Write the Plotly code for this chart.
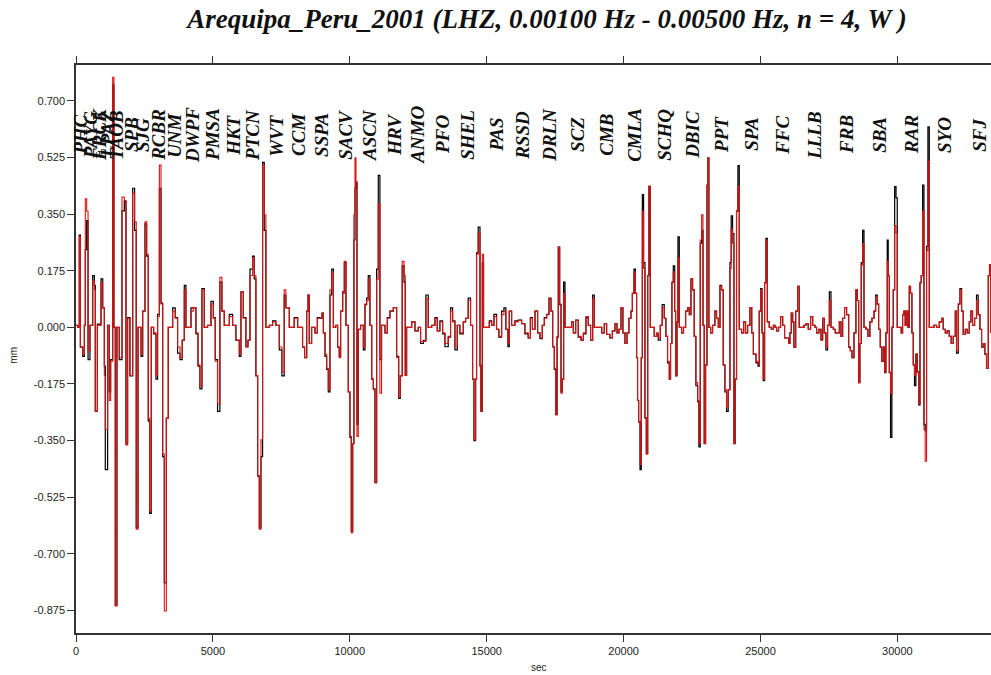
import plotly.graph_objects as go

# Filtered vertical displacement (mm) versus time after origin (s)
time_s = [0, 60, 120, 160, 245, 305, 340, 390, 440, 510, 610, 670, 705, 780, 915, 975, 1035, 1070, 1155, 1215,
          1265, 1340, 1385, 1435, 1495, 1580, 1680, 1765, 1825, 1885, 1970, 2070, 2140, 2200, 2265, 2375, 2435, 2520, 2580, 2640,
          2690, 2750, 2835, 2920, 2980, 3045, 3105, 3165, 3225, 3300, 3370, 3530, 3625, 3710, 3800, 3880, 3955, 4015, 4200, 4285,
          4380, 4455, 4525, 4600, 4685, 4805, 4930, 5015, 5085, 5170, 5255, 5330, 5415, 5600, 5720, 5840, 5965, 6025, 6110, 6205,
          6280, 6355, 6450, 6510, 6570, 6635, 6695, 6755, 6815, 6875, 6935, 7060, 7180, 7300, 7425, 7520, 7605, 7665, 7790, 7970,
          8095, 8275, 8350, 8425, 8475, 8520, 8605, 8730, 8815, 8910, 8985, 9035, 9095, 9155, 9215, 9275, 9340, 9400, 9485, 9555,
          9615, 9665, 9740, 9800, 9860, 9945, 10005, 10055, 10105, 10150, 10190, 10225, 10262, 10310, 10395, 10495, 10555, 10615, 10675, 10735,
          10800, 10860, 10920, 10980, 11040, 11100, 11160, 11285, 11370, 11465, 11590, 11710, 11785, 11845, 11915, 11980, 12025, 12075, 12260, 12380,
          12500, 12585, 12685, 12780, 12865, 12990, 13110, 13195, 13290, 13390, 13475, 13595, 13680, 13755, 13840, 13925, 14020, 14145, 14230, 14325,
          14410, 14485, 14535, 14595, 14630, 14690, 14755, 14790, 14840, 14885, 14995, 15095, 15180, 15265, 15360, 15445, 15545, 15630, 15700, 15775,
          15825, 15910, 16030, 16150, 16275, 16395, 16515, 16595, 16670, 16765, 16860, 16945, 17030, 17105, 17190, 17275, 17350, 17410, 17470, 17520,
          17570, 17615, 17665, 17715, 17760, 17810, 17860, 17980, 18100, 18165, 18250, 18345, 18445, 18530, 18625, 18710, 18795, 18870, 18930, 19075,
          19200, 19295, 19380, 19500, 19590, 19685, 19760, 19830, 19905, 19975, 20050, 20125, 20195, 20270, 20320, 20380, 20430, 20475, 20510, 20550,
          20600, 20645, 20685, 20730, 20780, 20830, 20880, 20925, 20975, 21050, 21120, 21205, 21265, 21340, 21410, 21485, 21545, 21605, 21670, 21715,
          21765, 21815, 21865, 21900, 21950, 21985, 22035, 22120, 22190, 22265, 22340, 22400, 22460, 22520, 22580, 22640, 22705, 22750, 22800, 22850,
          22900, 22945, 22995, 23045, 23080, 23115, 23180, 23250, 23335, 23395, 23460, 23520, 23580, 23640, 23700, 23760, 23820, 23885, 23930, 23980,
          24030, 24080, 24125, 24175, 24225, 24310, 24385, 24455, 24530, 24615, 24680, 24740, 24835, 24910, 24955, 25005, 25055, 25100, 25150, 25200,
          25250, 25320, 25395, 25470, 25530, 25590, 25660, 25735, 25810, 25880, 25955, 26030, 26075, 26125, 26175, 26220, 26285, 26355, 26415, 26500,
          26590, 26660, 26745, 26830, 26905, 26990, 27050, 27135, 27210, 27270, 27330, 27390, 27450, 27515, 27575, 27660, 27730, 27805, 27880, 27940,
          28000, 28070, 28145, 28220, 28280, 28340, 28415, 28485, 28535, 28585, 28630, 28680, 28730, 28780, 28850, 28925, 28995, 29070, 29145, 29205,
          29265, 29315, 29375, 29425, 29485, 29535, 29580, 29630, 29665, 29705, 29750, 29800, 29850, 29900, 29950, 29995, 30070, 30140, 30190, 30240,
          30285, 30335, 30385, 30435, 30480, 30530, 30580, 30625, 30675, 30725, 30775, 30825, 30870, 30920, 30970, 31015, 31065, 31115, 31165, 31250,
          31335, 31430, 31530, 31615, 31675, 31750, 31820, 31895, 31965, 32040, 32115, 32160, 32225, 32285, 32345, 32405, 32480, 32550, 32625, 32685,
          32745, 32820, 32890, 32950, 33015, 33075, 33135, 33195, 33255, 33320, 33365, 33415]

# Observed trace (black)
observed_mm = [0.006, 0, 0.285, -0.061, -0.09, 0.006, 0.24, 0.33, -0.1, 0.006, 0.16, 0.13, -0.259, 0.01, 0.15, 0.06, -0.12, -0.44, 0.006, -0.2,
               -0.1, 0.75, 0, -0.86, 0, -0.1, 0.36, 0.39, -0.36, 0.03, -0.15, 0.43, 0.3, -0.62, 0, -0.09, 0.05, 0.32, 0.22, -0.29,
               -0.575, 0, -0.02, -0.16, 0.04, 0.43, 0.075, -0.4, -0.79, -0.281, 0, 0.06, 0.03, -0.08, -0.1, -0.04, 0.13, 0, 0.06, 0.06,
               -0.02, -0.12, -0.19, 0.12, 0, 0.006, 0.08, 0.03, -0.1, -0.26, 0.14, 0.05, 0.006, 0.04, 0.006, -0.04, -0.09, 0.11, 0.03, -0.06,
               -0.04, 0.18, 0.22, 0.15, -0.15, -0.46, -0.62, -0.4, 0.51, 0.3, 0, 0.006, 0.02, 0.006, -0.07, -0.15, 0.1, 0.06, 0, 0.03,
               0, -0.061, -0.094, 0.05, 0.1, -0.05, 0, -0.017, 0.03, 0.028, 0.044, -0.017, -0.09, -0.13, -0.2, 0.1, 0.18, 0, 0.006, -0.061,
               -0.09, 0.05, 0.11, 0.2, 0.006, -0.2, -0.34, -0.63, -0.36, 0.27, 0.43, 0.45, -0.3, -0.006, 0.006, -0.07, 0.07, 0.09, 0.16, 0.006,
               -0.16, -0.19, -0.48, 0.18, 0.47, -0.1, 0.006, -0.017, 0.03, 0.05, 0.061, -0.09, -0.22, -0.15, 0.19, 0.14, -0.149, 0, 0.017, -0.011,
               0, -0.05, -0.04, 0.1, 0, 0.006, 0.03, -0.011, 0.02, -0.02, -0.06, -0.03, 0.06, 0.02, -0.07, 0.006, -0.02, 0.017, 0.028, 0.09,
               0.006, -0.16, -0.35, -0.16, 0.23, 0.31, -0.12, -0.26, 0.2, 0, 0, 0.02, 0.006, 0.04, -0.006, -0.03, 0.05, 0.06, -0.006, -0.06,
               0.05, 0.006, 0.02, 0.022, 0.011, -0.02, -0.033, 0.03, -0.006, 0.05, -0.017, -0.035, 0.006, 0.03, 0.04, 0.09, 0.05, -0.06, -0.13, -0.27,
               -0.03, 0.248, 0.07, -0.2, -0.16, 0.14, 0, 0, 0.017, -0.017, 0.022, -0.03, -0.04, -0.02, 0.03, 0.006, -0.04, 0.1, 0, 0,
               -0.017, 0.011, -0.022, -0.033, -0.011, 0.011, -0.017, -0.006, 0.06, -0.017, -0.05, -0.017, 0.028, 0.05, 0.105, 0.18, 0.105, -0.094, -0.226, -0.292,
               -0.44, -0.094, 0.41, 0.2, -0.28, -0.39, 0.16, 0.436, 0, 0, -0.028, -0.02, -0.04, 0.006, 0.07, 0.028, -0.028, -0.11, -0.16, -0.05,
               0.14, 0.19, 0.05, -0.15, 0.017, 0.28, 0, -0.017, 0, 0.05, 0.061, 0.039, 0.15, 0.116, -0.028, -0.18, -0.23, -0.37, 0.26, 0.3,
               0.006, -0.36, -0.116, 0.44, 0.524, 0, -0.017, 0.006, 0.05, 0.028, 0, 0.13, 0.116, -0.116, -0.2, -0.26, -0.193, 0.2, 0.345, 0.29,
               -0.36, -0.16, 0.36, 0.5, -0.006, -0.017, 0.017, -0.017, 0.006, 0.061, -0.017, -0.083, -0.11, -0.12, 0.05, 0.12, -0.017, -0.165, 0.138, 0.275,
               0.017, 0, -0.006, 0.006, 0, -0.011, 0, 0.033, 0.006, -0.033, -0.033, -0.05, -0.017, 0.044, 0.017, -0.061, 0.05, 0.127, 0, 0,
               0.006, 0.011, -0.006, 0.033, 0.006, 0, -0.017, -0.006, -0.039, 0.028, -0.017, -0.07, 0.006, 0.11, 0, -0.006, -0.017, -0.017, 0.017, -0.028,
               0.028, 0.061, 0.039, -0.061, -0.072, -0.094, -0.017, 0.116, 0.083, -0.171, -0.05, 0.2, 0.3, 0, -0.006, -0.028, 0.017, 0.028, 0.05, 0.1,
               0.072, -0.006, -0.061, -0.105, -0.061, -0.14, -0.017, 0.27, 0.16, -0.14, -0.34, 0, 0.116, 0.435, 0.4, 0, 0, -0.017, 0.039, 0.05,
               0.006, 0.05, 0, 0.127, 0.105, -0.017, -0.116, -0.18, -0.083, -0.138, -0.24, 0.138, 0.16, 0.44, -0.3, -0.32, 0.25, 0.62, 0, 0,
               0.006, 0, 0.017, 0.028, -0.006, -0.017, -0.011, -0.028, -0.05, -0.028, 0.05, -0.08, 0.072, 0.12, 0.05, -0.022, -0.006, -0.017, 0.017, 0.05,
               0.006, 0.028, 0.1, 0.039, -0.006, -0.061, -0.05, -0.083, -0.127, 0.16, 0.193, -0.017]

# Synthetic trace (red)
synthetic_mm = [0.006, 0, 0.281, -0.061, -0.083, 0.006, 0.397, 0.359, -0.072, 0.006, 0.143, 0.116, -0.259, 0.006, 0.138, 0.061, -0.149, -0.315, 0.006, -0.226,
                -0.105, 0.773, 0, -0.861, 0, -0.094, 0.403, 0.392, -0.364, 0.028, -0.149, 0.414, 0.326, -0.624, 0, -0.083, 0.05, 0.326, 0.226, -0.281,
                -0.568, 0, -0.017, -0.149, 0.033, 0.502, 0.072, -0.392, -0.877, -0.281, 0, 0.05, 0.028, -0.061, -0.094, -0.039, 0.116, 0, 0.05, 0.061,
                -0.017, -0.116, -0.182, 0.116, 0, 0.006, 0.072, 0.028, -0.105, -0.237, 0.155, 0.05, 0.006, 0.033, 0.006, -0.039, -0.083, 0.11, 0.028, -0.061,
                -0.039, 0.16, 0.215, 0.16, -0.149, -0.458, -0.624, -0.348, 0.502, 0.348, 0, 0.006, 0.017, 0.006, -0.061, -0.138, 0.116, 0.061, 0, 0.028,
                0, -0.061, -0.094, 0.05, 0.1, -0.05, 0, -0.017, 0.028, 0.028, 0.044, -0.017, -0.083, -0.127, -0.193, 0.116, 0.171, 0, 0.006, -0.061,
                -0.094, 0.05, 0.105, 0.204, 0.006, -0.199, -0.337, -0.635, -0.359, 0.348, 0.524, 0.447, -0.337, -0.006, 0.006, -0.061, 0.072, 0.083, 0.149, 0.006,
                -0.16, -0.193, -0.48, 0.149, 0.381, -0.204, 0.006, -0.017, 0.028, 0.05, 0.061, -0.094, -0.215, -0.149, 0.204, 0.16, -0.149, 0, 0.017, -0.011,
                0, -0.044, -0.044, 0.088, 0, 0.006, 0.028, -0.011, 0.017, -0.017, -0.05, -0.028, 0.05, 0.017, -0.061, 0.006, -0.017, 0.017, 0.028, 0.083,
                0.006, -0.16, -0.348, -0.16, 0.226, 0.292, -0.116, -0.259, 0.226, 0, 0, 0.017, 0.006, 0.033, -0.006, -0.028, 0.039, 0.05, -0.006, -0.05,
                0.05, 0.006, 0.017, 0.022, 0.011, -0.017, -0.033, 0.028, -0.006, 0.05, -0.017, -0.033, 0.006, 0.028, 0.039, 0.088, 0.05, -0.061, -0.127, -0.27,
                -0.028, 0.248, 0.072, -0.204, -0.16, 0.105, 0, 0, 0.017, -0.017, 0.022, -0.028, -0.039, -0.017, 0.033, 0.006, -0.039, 0.088, 0, 0,
                -0.017, 0.011, -0.022, -0.033, -0.011, 0.011, -0.017, -0.006, 0.061, -0.017, -0.05, -0.017, 0.028, 0.05, 0.105, 0.171, 0.105, -0.094, -0.226, -0.292,
                -0.425, -0.094, 0.359, 0.182, -0.281, -0.392, 0.16, 0.436, 0, 0, -0.028, -0.017, -0.033, 0.006, 0.061, 0.028, -0.028, -0.105, -0.16, -0.05,
                0.138, 0.171, 0.05, -0.149, 0.017, 0.215, 0, -0.017, 0, 0.05, 0.061, 0.039, 0.149, 0.116, -0.028, -0.171, -0.226, -0.359, 0.27, 0.348,
                0.006, -0.359, -0.116, 0.436, 0.524, 0, -0.017, 0.006, 0.05, 0.028, 0, 0.127, 0.116, -0.116, -0.193, -0.248, -0.193, 0.182, 0.304, 0.26,
                -0.359, -0.16, 0.359, 0.436, -0.006, -0.017, 0.017, -0.017, 0.006, 0.061, -0.017, -0.083, -0.105, -0.116, 0.05, 0.116, -0.017, -0.16, 0.138, 0.27,
                0.017, 0, -0.006, 0.006, 0, -0.011, 0, 0.033, 0.006, -0.033, -0.033, -0.05, -0.017, 0.044, 0.017, -0.061, 0.05, 0.127, 0, 0,
                0.006, 0.011, -0.006, 0.033, 0.006, 0, -0.017, -0.006, -0.039, 0.028, -0.017, -0.061, 0.006, 0.083, 0, -0.006, -0.017, -0.017, 0.017, -0.028,
                0.028, 0.061, 0.039, -0.061, -0.072, -0.094, -0.017, 0.116, 0.083, -0.171, -0.05, 0.193, 0.259, 0, -0.006, -0.028, 0.017, 0.028, 0.05, 0.094,
                0.072, -0.006, -0.061, -0.105, -0.061, -0.138, -0.017, 0.204, 0.16, -0.138, -0.204, 0, 0.116, 0.315, 0.292, 0, 0, -0.017, 0.039, 0.05,
                0.006, 0.05, 0, 0.127, 0.105, -0.017, -0.116, -0.149, -0.083, -0.138, -0.237, 0.138, 0.16, 0.359, -0.315, -0.414, 0.237, 0.513, 0, 0,
                0.006, 0, 0.017, 0.028, -0.006, -0.017, -0.011, -0.028, -0.05, -0.028, 0.05, -0.072, 0.072, 0.116, 0.05, -0.022, -0.006, -0.017, 0.017, 0.05,
                0.006, 0.028, 0.083, 0.039, -0.006, -0.061, -0.05, -0.083, -0.127, 0.16, 0.193, -0.017]

# Station names and their predicted arrival times (s)
stations = ["PHC", "PAYG", "ERCK", "LPAZ", "TAOB", "SPB", "SJG", "RCBR", "UNM", "DWPF", "PMSA", "HKT", "PTCN", "WVT", "CCM",
            "SSPA", "SACV", "ASCN", "HRV", "ANMO", "PFO", "SHEL", "PAS", "RSSD", "DRLN", "SCZ", "CMB", "CMLA", "SCHQ",
            "DBIC", "PPT", "SPA", "FFC", "LLLB", "FRB", "SBA", "RAR", "SYO", "SFJ"]
station_times = [180, 560, 880, 1170, 1500, 2050, 2450, 3030, 3615, 4275, 5005, 5770, 6465, 7340, 8145,
                 8985, 9860, 10740, 11650, 12490, 13405, 14315, 15375, 16325, 17310, 18335, 19390, 20415, 21510,
                 22535, 23595, 24690, 25820, 26990, 28160, 29365, 30535, 31740, 33015]
label_level = 0.595

y_ticks = [0.7, 0.525, 0.35, 0.175, 0.0, -0.175, -0.35, -0.525, -0.7, -0.875]
x_ticks = [0, 5000, 10000, 15000, 20000, 25000, 30000]

fig = go.Figure()
fig.add_trace(go.Scatter(x=time_s, y=observed_mm, mode="lines", line=dict(color="#000000", width=1.2, shape="hv"),
                         hoverinfo="skip", showlegend=False))
fig.add_trace(go.Scatter(x=time_s, y=synthetic_mm, mode="lines", line=dict(color="#dc1414", width=1.1, shape="hv"),
                         hoverinfo="skip", showlegend=False))

serif = "Liberation Serif, Times New Roman, serif"
for name, t in zip(stations, station_times):
    fig.add_annotation(x=t, y=label_level, xref="x", yref="y", text=name, showarrow=False, textangle=-90,
                       font=dict(family=serif, size=19, color="#111111", weight="bold", style="italic"))

fig.add_annotation(x=-0.076, y=0.49, xref="paper", yref="paper", text="mm", showarrow=False, textangle=-90,
                   font=dict(family="Liberation Sans, Arial", size=10, color="#222222"))
fig.add_annotation(x=0.506, y=-0.074, xref="paper", yref="paper", text="sec", showarrow=False,
                   font=dict(family="Liberation Sans, Arial", size=10, color="#222222"))

fig.update_layout(
    width=991, height=675,
    margin=dict(l=76, r=0, t=65, b=42),
    paper_bgcolor="white", plot_bgcolor="white",
    title=dict(text="Arequipa_Peru_2001 (LHZ, 0.00100 Hz - 0.00500 Hz, n = 4, W )",
               x=0.552, xanchor="center", y=0.972, yanchor="middle",
               font=dict(family=serif, size=27, color="#111111", weight="bold", style="italic")),
)
fig.update_xaxes(range=[0, 33419], tickvals=x_ticks, ticktext=[str(v) for v in x_ticks],
                 showgrid=False, zeroline=False, showline=True, linecolor="#333333", linewidth=1.5,
                 mirror="allticks", ticks="outside", ticklen=7, tickcolor="#333333", tickwidth=1.2,
                 tickfont=dict(family="Liberation Sans, Arial", size=11, color="#222222"))
fig.update_yaxes(range=[-0.945, 0.811], tickvals=y_ticks, ticktext=[f"{v:.3f}" for v in y_ticks],
                 showgrid=False, zeroline=False, showline=True, linecolor="#333333", linewidth=1.5,
                 ticks="outside", ticklen=7, tickcolor="#333333", tickwidth=1.2,
                 tickfont=dict(family="Liberation Sans, Arial", size=11, color="#222222"))

fig.write_html("out.html")
